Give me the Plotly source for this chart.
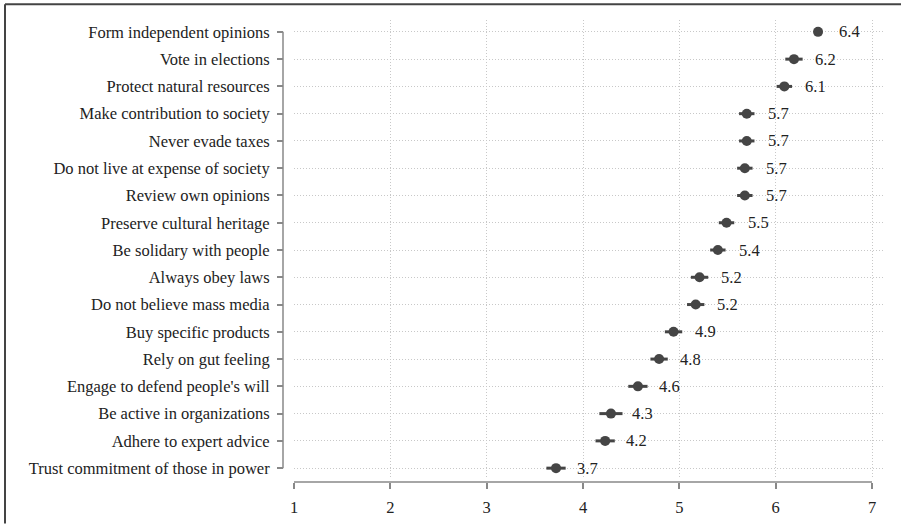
import plotly.graph_objects as go

items = [
    "Form independent opinions", "Vote in elections", "Protect natural resources",
    "Make contribution to society", "Never evade taxes", "Do not live at expense of society",
    "Review own opinions", "Preserve cultural heritage", "Be solidary with people",
    "Always obey laws", "Do not believe mass media", "Buy specific products",
    "Rely on gut feeling", "Engage to defend people's will", "Be active in organizations",
    "Adhere to expert advice", "Trust commitment of those in power",
]
means = [6.44, 6.19, 6.09, 5.70, 5.70, 5.68, 5.68, 5.49, 5.40, 5.21, 5.17, 4.94, 4.79, 4.57, 4.29, 4.23, 3.72]
errors = [0.04, 0.09, 0.08, 0.08, 0.08, 0.08, 0.08, 0.08, 0.08, 0.09, 0.09, 0.09, 0.09, 0.1, 0.12, 0.1, 0.1]
value_labels = ["6.4", "6.2", "6.1", "5.7", "5.7", "5.7", "5.7", "5.5", "5.4", "5.2", "5.2", "4.9", "4.8", "4.6", "4.3", "4.2", "3.7"]
x_ticks = [1, 2, 3, 4, 5, 6, 7]

W, H = 901, 529
ML, MR, MT, MB = 283, 18, 20, 42
pw = W - ML - MR
ph = H - MT - MB
FONT = "Liberation Serif, Times New Roman, serif"
TXT = "#222222"
FS = 16.5

fig = go.Figure()
fig.add_trace(go.Scatter(
    x=means, y=items, mode="markers",
    marker=dict(color="#454545", size=10, line=dict(width=0)),
    error_x=dict(type="data", array=errors, color="#454545", thickness=3, width=0),
    cliponaxis=False, showlegend=False, hoverinfo="skip",
))

for m, it, lab in zip(means, items, value_labels):
    fig.add_annotation(x=m, y=it, xref="x", yref="y", text=lab, showarrow=False,
                       xanchor="left", yanchor="middle", xshift=19,
                       font=dict(family=FONT, size=FS, color=TXT))

# axis lines
fig.add_shape(type="line", xref="paper", yref="y", x0=0, x1=0, y0=items[-1], y1=items[0],
              line=dict(color="#888888", width=1.5))
fig.add_shape(type="line", xref="x", yref="paper", x0=x_ticks[0], x1=x_ticks[-1], y0=0, y1=0,
              line=dict(color="#888888", width=1.5))
# image frame (top and left edges only visible in the reference)
top_y = 1 + (MT - 4) / ph
left_x = (5 - ML) / pw
fig.add_shape(type="line", xref="paper", yref="paper", x0=left_x, x1=(W - ML) / pw,
              y0=top_y, y1=top_y, line=dict(color="#444444", width=2))
fig.add_shape(type="line", xref="paper", yref="paper", x0=left_x, x1=left_x,
              y0=top_y, y1=-MB / ph, line=dict(color="#444444", width=2))

px_per_unit = 578 / 6
row_px = 441 / 16
fig.update_layout(
    width=W, height=H,
    margin=dict(l=ML, r=MR, t=MT, b=MB),
    paper_bgcolor="white", plot_bgcolor="white",
    font=dict(family=FONT, size=FS, color=TXT),
    xaxis=dict(
        domain=[11 / pw, 1], range=[1, 7 + 11 / px_per_unit],
        tickvals=x_ticks, ticks="outside", ticklen=6, tickcolor="#888888", tickwidth=1.5,
        showgrid=True, gridcolor="#c8c8c8", griddash="1px,2px", gridwidth=1,
        showline=False, zeroline=False, anchor="free", position=0,
        tickfont=dict(family=FONT, size=FS, color=TXT), ticklabelstandoff=4,
    ),
    yaxis=dict(
        domain=[3 / ph, 1], type="category", categoryorder="array",
        categoryarray=items[::-1],
        range=[-11 / row_px, 16 + 12 / row_px],
        ticks="outside", ticklen=6, tickcolor="#888888", tickwidth=1.5,
        showgrid=True, gridcolor="#c8c8c8", griddash="1px,2px", gridwidth=1,
        showline=False, zeroline=False, anchor="free", position=0,
        tickfont=dict(family=FONT, size=FS, color=TXT), ticklabelstandoff=4,
    ),
)

fig.write_html("out.html", config={"displayModeBar": False},
               post_script="document.body.style.margin='0';")
